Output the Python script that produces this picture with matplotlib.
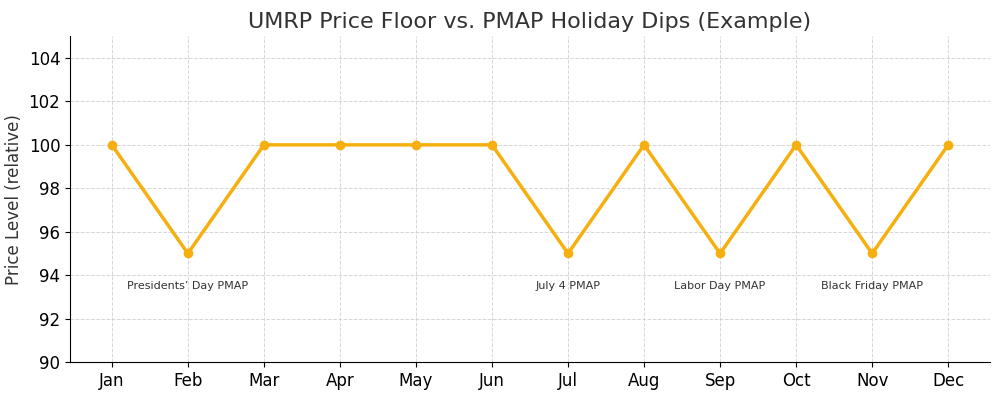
import matplotlib.pyplot as plt
import numpy as np

# Monthly price level relative to the UMRP floor
months = ["Jan", "Feb", "Mar", "Apr", "May", "Jun",
          "Jul", "Aug", "Sep", "Oct", "Nov", "Dec"]
price_level = [100, 95, 100, 100, 100, 100, 95, 100, 95, 100, 95, 100]

# Holiday PMAP dips: month index and label
dip_months = [1, 6, 8, 10]
dip_labels = ["Presidents’ Day PMAP", "July 4 PMAP",
              "Labor Day PMAP", "Black Friday PMAP"]
label_level = 93.5

fig, ax = plt.subplots(figsize=(10, 3.94), dpi=100)

x = np.arange(len(months))
ax.plot(x, price_level, color="#F5B00F", linewidth=2.5,
        marker="o", markersize=6)

for m, lab in zip(dip_months, dip_labels):
    ax.text(m, label_level, lab, ha="center", va="center",
            fontsize=8, color="#333333")

ax.set_xticks(x)
ax.set_xticklabels(months)
ax.set_ylim(90, 105)
ax.set_yticks(np.arange(90, 105, 2))
ax.tick_params(labelsize=12)

ax.set_title("UMRP Price Floor vs. PMAP Holiday Dips (Example)",
             fontsize=16, color="#333333")
ax.set_ylabel("Price Level (relative)", fontsize=12, color="#333333")

ax.grid(True, linestyle="--", linewidth=0.7, color="#cccccc", alpha=0.8)
ax.spines["top"].set_visible(False)
ax.spines["right"].set_visible(False)

fig.subplots_adjust(left=0.07, right=0.99, top=0.908, bottom=0.081)
fig.savefig("out.png")
